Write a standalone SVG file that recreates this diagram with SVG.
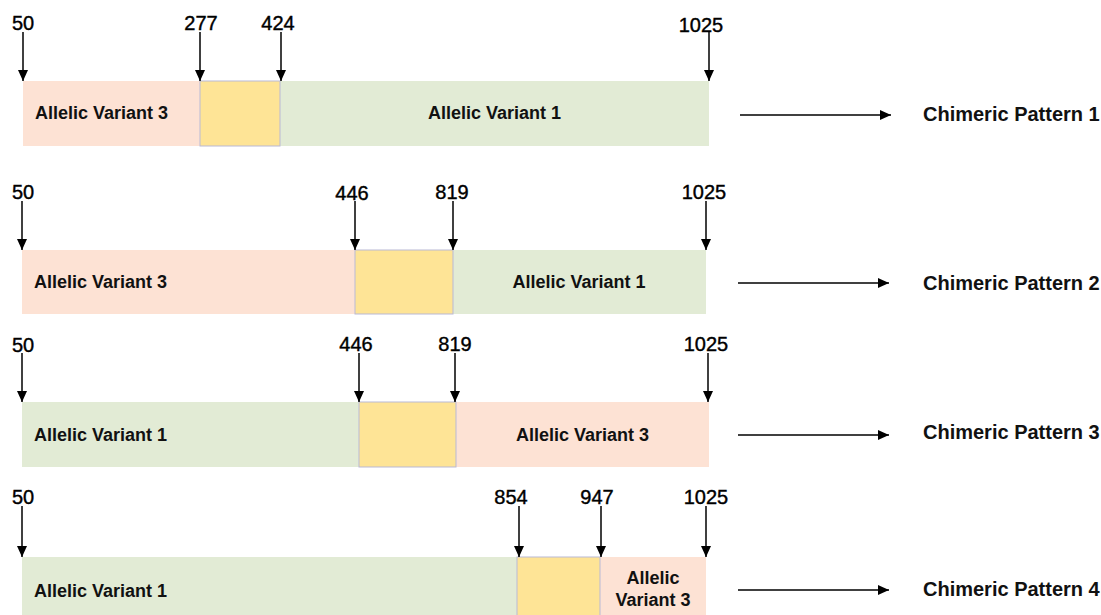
<svg xmlns="http://www.w3.org/2000/svg" width="1101" height="615" viewBox="0 0 1101 615">
<style>
.pk{fill:#FDE2D4}
.gr{fill:#E2EBD5}
.yl{fill:#FEE496;stroke:#B9B9D6;stroke-width:1}
.num{font-family:"Liberation Sans",Arial,sans-serif;font-size:20px;fill:#000;stroke:#000;stroke-width:0.4;text-anchor:middle}
.lbl{font-family:"Liberation Sans",Arial,sans-serif;font-size:18px;font-weight:bold;fill:#111}
.pat{font-family:"Liberation Sans",Arial,sans-serif;font-size:20px;font-weight:bold;fill:#111}
.ar{stroke:#000;stroke-width:1.5;fill:none;marker-end:url(#ah)}
</style>
<defs>
<marker id="ah" markerUnits="userSpaceOnUse" markerWidth="11" markerHeight="10" viewBox="0 0 11 10" refX="11" refY="5" orient="auto">
<path d="M0,0 L11,5 L0,10 z" fill="#000"/>
</marker>
</defs>
<rect width="1101" height="615" fill="#fff"/>

<g id="row1">
<rect class="pk" x="23" y="81" width="177" height="65"/>
<rect class="gr" x="280" y="81" width="429" height="65"/>
<rect class="yl" x="200" y="81" width="80" height="65"/>
<text class="lbl" x="35" y="119">Allelic Variant 3</text>
<text class="lbl" x="494.5" y="119" text-anchor="middle">Allelic Variant 1</text>
<text class="num" x="23" y="30">50</text>
<text class="num" x="201" y="30">277</text>
<text class="num" x="278" y="30">424</text>
<text class="num" x="701" y="32">1025</text>
<text class="pat" x="923" y="121">Chimeric Pattern 1</text>
</g>

<g id="row2">
<rect class="pk" x="22" y="250" width="333" height="64"/>
<rect class="gr" x="453" y="250" width="253" height="64"/>
<rect class="yl" x="355" y="250" width="98" height="64"/>
<text class="lbl" x="34" y="288">Allelic Variant 3</text>
<text class="lbl" x="579" y="288" text-anchor="middle">Allelic Variant 1</text>
<text class="num" x="23" y="199">50</text>
<text class="num" x="352" y="200">446</text>
<text class="num" x="452" y="199">819</text>
<text class="num" x="704" y="199">1025</text>
<text class="pat" x="923" y="290">Chimeric Pattern 2</text>
</g>

<g id="row3">
<rect class="gr" x="22" y="402" width="337" height="65"/>
<rect class="pk" x="456" y="402" width="253" height="65"/>
<rect class="yl" x="359" y="402" width="97" height="65"/>
<text class="lbl" x="34" y="441">Allelic Variant 1</text>
<text class="lbl" x="582.5" y="441" text-anchor="middle">Allelic Variant 3</text>
<text class="num" x="23" y="352">50</text>
<text class="num" x="356" y="351">446</text>
<text class="num" x="455" y="351">819</text>
<text class="num" x="706" y="351">1025</text>
<text class="pat" x="923" y="439">Chimeric Pattern 3</text>
</g>

<g id="row4">
<rect class="gr" x="22" y="557" width="495" height="60"/>
<rect class="pk" x="600" y="557" width="106" height="60"/>
<rect class="yl" x="517" y="557" width="83" height="60"/>
<text class="lbl" x="34" y="597">Allelic Variant 1</text>
<text class="lbl" x="653" y="584" text-anchor="middle">Allelic</text>
<text class="lbl" x="653" y="606" text-anchor="middle">Variant 3</text>
<text class="num" x="23" y="504">50</text>
<text class="num" x="511" y="504">854</text>
<text class="num" x="597" y="504">947</text>
<text class="num" x="706" y="504">1025</text>
<text class="pat" x="923" y="596">Chimeric Pattern 4</text>
</g>

<g id="connectors">
<path class="ar" d="M23,32 V81"/>
<path class="ar" d="M200,32 V81"/>
<path class="ar" d="M281,32 V81"/>
<path class="ar" d="M709,32 V81"/>
<path class="ar" d="M740,115 H891"/>

<path class="ar" d="M22,201 V250"/>
<path class="ar" d="M355,201 V250"/>
<path class="ar" d="M453,201 V250"/>
<path class="ar" d="M706,201 V250"/>
<path class="ar" d="M738,283 H889"/>

<path class="ar" d="M22,353 V402"/>
<path class="ar" d="M359,353 V402"/>
<path class="ar" d="M455,353 V402"/>
<path class="ar" d="M708,353 V402"/>
<path class="ar" d="M738,435 H889"/>

<path class="ar" d="M22,506 V557"/>
<path class="ar" d="M519,506 V557"/>
<path class="ar" d="M601,506 V557"/>
<path class="ar" d="M706,506 V557"/>
<path class="ar" d="M738,590 H889"/>
</g>
</svg>
